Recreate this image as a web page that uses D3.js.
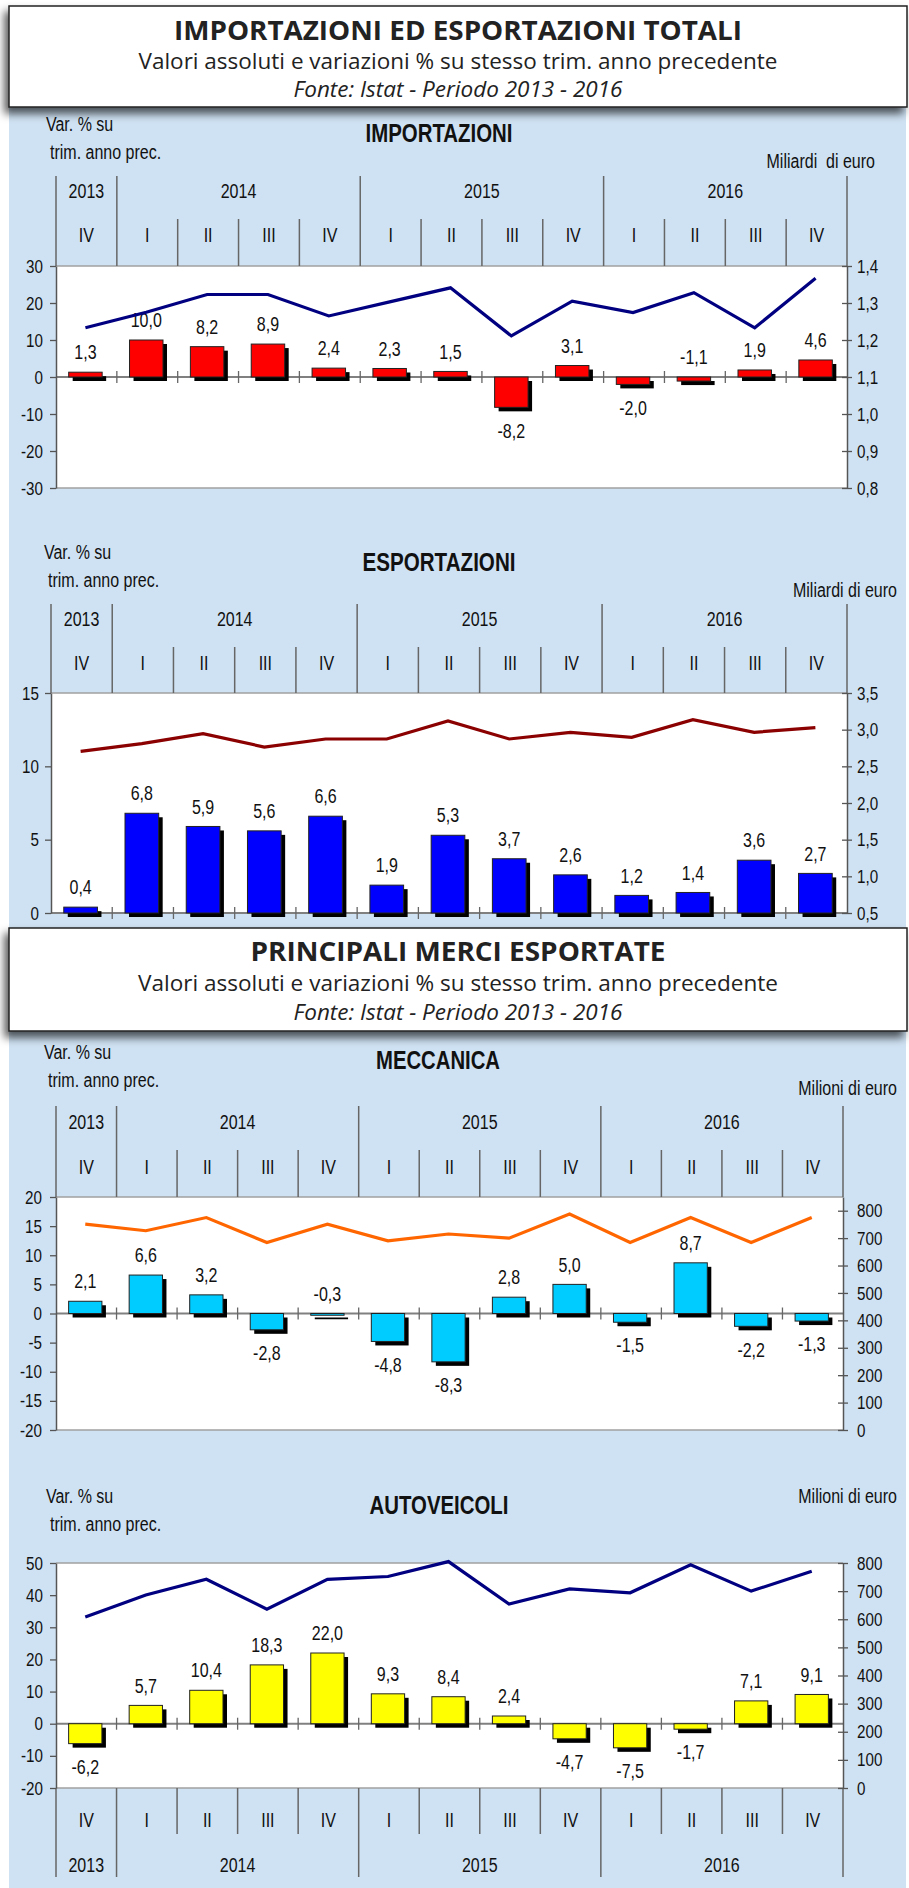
<!DOCTYPE html>
<html>
<head>
<meta charset="utf-8">
<script src="https://cdn.jsdelivr.net/npm/d3@7"></script>
<style>
  body { margin: 0; background: #fff; }
  svg text { font-family: "Liberation Sans", Arial, sans-serif; fill: #111; }
  .head text { font-family: "Open Sans", "Liberation Sans", sans-serif; fill: #222; }
</style>
</head>
<body>
<svg id="chart" width="909" height="1888"></svg>
<script>
// categories
var quarters = ["IV", "I", "II", "III", "IV", "I", "II", "III", "IV", "I", "II", "III", "IV"];
var years = ["2013", "2014", "2015", "2016"];
var yearSpan = [1, 4, 4, 4];

// importazioni: var. % e miliardi di euro
var impVar = [1.3, 10.0, 8.2, 8.9, 2.4, 2.3, 1.5, -8.2, 3.1, -2.0, -1.1, 1.9, 4.6];
var impVal = [1.233, 1.275, 1.323, 1.323, 1.265, 1.303, 1.341, 1.211, 1.305, 1.274, 1.328, 1.233, 1.367];
var impLeftTicks = [-30, -20, -10, 0, 10, 20, 30];
var impRightTicks = [0.8, 0.9, 1.0, 1.1, 1.2, 1.3, 1.4];

// esportazioni
var espVar = [0.4, 6.8, 5.9, 5.6, 6.6, 1.9, 5.3, 3.7, 2.6, 1.2, 1.4, 3.6, 2.7];
var espVal = [2.705, 2.81, 2.946, 2.763, 2.873, 2.873, 3.118, 2.873, 2.964, 2.895, 3.136, 2.964, 3.028];
var espLeftTicks = [0, 5, 10, 15];
var espRightTicks = [0.5, 1.0, 1.5, 2.0, 2.5, 3.0, 3.5];

// meccanica: milioni di euro
var mecVar = [2.1, 6.6, 3.2, -2.8, -0.3, -4.8, -8.3, 2.8, 5.0, -1.5, 8.7, -2.2, -1.3];
var mecVal = [751, 727, 775, 684, 751, 690, 715, 700, 788, 684, 775, 684, 775];
var mecLeftTicks = [-20, -15, -10, -5, 0, 5, 10, 15, 20];
var mecRightTicks = [0, 100, 200, 300, 400, 500, 600, 700, 800];

// autoveicoli
var autVar = [-6.2, 5.7, 10.4, 18.3, 22.0, 9.3, 8.4, 2.4, -4.7, -7.5, -1.7, 7.1, 9.1];
var autVal = [608, 686, 742, 636, 742, 752, 805, 654, 708, 694, 794, 700, 771];
var autLeftTicks = [-20, -10, 0, 10, 20, 30, 40, 50];
var autRightTicks = [0, 100, 200, 300, 400, 500, 600, 700, 800];

var it = d3.formatLocale({decimal: ",", thousands: ".", grouping: [3], currency: ["€", ""], minus: "-"});
var f1 = it.format(".1f"), f0 = it.format("d");

var svg = d3.select("#chart");

var defs = svg.append("defs");
defs.append("filter").attr("id", "ombra").attr("x", "-5%").attr("y", "-20%").attr("width", "110%").attr("height", "150%")
  .append("feDropShadow").attr("dx", -4).attr("dy", 6).attr("stdDeviation", 4)
  .attr("flood-color", "#000").attr("flood-opacity", 0.65);

// sfondo azzurro
svg.append("rect").attr("x", 9).attr("y", 60).attr("width", 897).attr("height", 1828).attr("fill", "#cfe2f3");

function testata(y, h, titolo, tLen, sLen, fLen, ys) {
  var g = svg.append("g").attr("class", "head");
  g.append("rect").attr("x", 9).attr("y", y).attr("width", 898).attr("height", h)
    .attr("fill", "#fff").attr("stroke", "#222").attr("stroke-width", 1.5).attr("filter", "url(#ombra)");
  g.append("text").attr("x", 458 - tLen / 2).attr("y", ys[0]).attr("dy", "0.36em")
    .attr("font-size", 26).attr("font-weight", "bold").attr("textLength", tLen).attr("lengthAdjust", "spacingAndGlyphs")
    .text(titolo);
  g.append("text").attr("x", 458 - sLen / 2).attr("y", ys[1]).attr("dy", "0.36em")
    .attr("font-size", 21).attr("textLength", sLen).attr("lengthAdjust", "spacingAndGlyphs")
    .text("Valori assoluti e variazioni % su stesso trim. anno precedente");
  g.append("text").attr("x", 458 - fLen / 2).attr("y", ys[2]).attr("dy", "0.36em")
    .attr("font-size", 21).attr("font-style", "italic").attr("textLength", fLen).attr("lengthAdjust", "spacingAndGlyphs")
    .text("Fonte: Istat - Periodo 2013 - 2016");
}

function pannello(p, L) {
  var g = svg.append("g");
  var n = quarters.length;
  var x = d3.scaleBand().domain(d3.range(n)).range([L.x0, L.x1]);
  var yL = d3.scaleLinear().domain(p.leftDomain).range([L.bottom, L.top]);
  var yR = d3.scaleLinear().domain(p.rightDomain).range([L.bottom, L.top]);
  var step = x.step();

  // testi
  g.append("text").attr("class", "nar").attr("x", L.varX).attr("y", L.varY).attr("dy", "0.36em").attr("font-size", 20).text("Var. % su");
  g.append("text").attr("class", "nar").attr("x", L.varX + 4).attr("y", L.varY + 28).attr("dy", "0.36em").attr("font-size", 20).text("trim. anno prec.");
  g.append("text").attr("x", L.titleX - p.titleLen / 2).attr("y", L.titleY).attr("dy", "0.36em")
    .attr("font-size", 25).attr("font-weight", "bold").attr("textLength", p.titleLen).attr("lengthAdjust", "spacingAndGlyphs")
    .text(p.title);
  g.append("text").attr("class", "nar").attr("x", L.unitX).attr("y", L.unitY).attr("dy", "0.36em").attr("text-anchor", "end")
    .attr("font-size", 20).style("white-space", "pre").text(p.unit);

  // area del grafico
  g.append("rect").attr("x", L.x0).attr("y", L.top).attr("width", L.x1 - L.x0).attr("height", L.bottom - L.top).attr("fill", "#fff");
  g.selectAll(".bordo").data([L.top, L.bottom]).enter().append("line")
    .attr("x1", L.x0).attr("x2", L.x1).attr("y1", d => d).attr("y2", d => d)
    .attr("stroke", "#a0a0a0").attr("stroke-width", 1.5);

  // intestazione anni / trimestri
  var yearStart = [0];
  yearSpan.forEach(function(s, i) { yearStart.push(yearStart[i] + s); });
  var bounds = d3.range(n + 1);
  g.selectAll(".sep").data(bounds).enter().append("line")
    .attr("x1", i => L.x0 + i * step).attr("x2", i => L.x0 + i * step)
    .attr("y1", i => L.below ? L.bottom : (yearStart.indexOf(i) >= 0 ? L.yearTop : L.qTop))
    .attr("y2", i => L.below ? (yearStart.indexOf(i) >= 0 ? L.yearBot : L.qBot) : L.top)
    .attr("stroke", "#666").attr("stroke-width", 1.5);
  g.selectAll(".q").data(quarters).enter().append("text").attr("class", "nar")
    .attr("x", (d, i) => x(i) + x.bandwidth() / 2).attr("y", L.qY).attr("dy", "0.36em")
    .attr("text-anchor", "middle").attr("font-size", 20).text(d => d);
  g.selectAll(".yr").data(years).enter().append("text").attr("class", "nar")
    .attr("x", (d, i) => L.x0 + (yearStart[i] + yearSpan[i] / 2) * step).attr("y", L.yearY).attr("dy", "0.36em")
    .attr("text-anchor", "middle").attr("font-size", 20).text(d => d);

  // linea dello zero con tacche
  var y0 = yL(0);
  g.append("line").attr("x1", L.x0).attr("x2", L.x1).attr("y1", y0).attr("y2", y0)
    .attr("stroke", "#808080").attr("stroke-width", 2);
  g.selectAll(".tz").data(d3.range(1, n)).enter().append("line")
    .attr("x1", i => L.x0 + i * step).attr("x2", i => L.x0 + i * step)
    .attr("y1", y0 - 6).attr("y2", y0 + 6).attr("stroke", "#666").attr("stroke-width", 1.3);

  // barre con ombra
  var bw = x.bandwidth() * 0.55;
  var bx = i => x(i) + (x.bandwidth() - bw) / 2 - 1;
  g.selectAll(".ombra").data(p.bars).enter().append("rect")
    .attr("x", (d, i) => bx(i) + 4).attr("y", d => Math.min(yL(d), y0) + 4)
    .attr("width", bw).attr("height", d => Math.max(Math.abs(yL(d) - y0), 1))
    .attr("fill", "#000");
  g.selectAll(".barra").data(p.bars).enter().append("rect")
    .attr("x", (d, i) => bx(i)).attr("y", d => Math.min(yL(d), y0))
    .attr("width", bw).attr("height", d => Math.max(Math.abs(yL(d) - y0), 1))
    .attr("fill", p.barColor).attr("stroke", "#222").attr("stroke-width", 1);

  // etichette
  g.selectAll(".et").data(p.bars).enter().append("text").attr("class", "nar")
    .attr("x", (d, i) => bx(i) + bw / 2)
    .attr("y", function(d) {
      var h = y0 - yL(d);
      if (d >= 0 || -h < 5) return Math.min(yL(d), y0) - 20;
      return yL(d) + 23;
    })
    .attr("dy", "0.36em").attr("text-anchor", "middle").attr("font-size", 20).text(d => f1(d));

  // linea valori assoluti
  g.append("path").datum(p.line)
    .attr("d", d3.line().x((d, i) => x(i) + x.bandwidth() / 2 - 1).y(d => yR(d)))
    .attr("fill", "none").attr("stroke", p.lineColor).attr("stroke-width", 3.2);

  // assi
  var aL = g.append("g").attr("transform", "translate(" + L.x0 + ",0)")
    .call(d3.axisLeft(yL).tickValues(p.leftTicks).tickSizeInner(6).tickSizeOuter(0).tickPadding(L.lPad).tickFormat(f0));
  var aR = g.append("g").attr("transform", "translate(" + L.x1 + ",0)")
    .call(d3.axisRight(yR).tickValues(p.rightTicks).tickSizeInner(5).tickSizeOuter(0).tickPadding(L.rPad).tickFormat(p.rightFmt));
  aR.selectAll(".tick line").attr("x1", -5).attr("x2", 5);
  [aL, aR].forEach(function(a) {
    a.select(".domain").attr("stroke", "#555").attr("stroke-width", 1.5);
    a.selectAll(".tick line").attr("stroke", "#555").attr("stroke-width", 1.3);
    a.selectAll("text").attr("class", "nar").attr("font-size", 19).attr("fill", "#111")
      .style("font-family", '"Liberation Sans", Arial, sans-serif');
  });
}

testata(6, 101, "IMPORTAZIONI ED ESPORTAZIONI TOTALI", 568, 639, 329, [30.5, 61, 89]);

pannello({title: "IMPORTAZIONI", titleLen: 147, unit: "Miliardi  di euro", bars: impVar, line: impVal,
  barColor: "#ff0000", lineColor: "#000080", leftDomain: [-30, 30], rightDomain: [0.8, 1.4],
  leftTicks: impLeftTicks, rightTicks: impRightTicks, rightFmt: f1},
  {x0: 56, x1: 847, top: 266, bottom: 488, yearTop: 176, qTop: 219, yearY: 191, qY: 235,
   varX: 46, varY: 124, titleX: 439, titleY: 133, unitX: 875, unitY: 161, lPad: 7, rPad: 5});

pannello({title: "ESPORTAZIONI", titleLen: 153, unit: "Miliardi di euro", bars: espVar, line: espVal,
  barColor: "#0000ff", lineColor: "#8b0000", leftDomain: [0, 15], rightDomain: [0.5, 3.5],
  leftTicks: espLeftTicks, rightTicks: espRightTicks, rightFmt: f1},
  {x0: 51, x1: 847, top: 693, bottom: 913, yearTop: 604, qTop: 647, yearY: 619, qY: 663,
   varX: 44, varY: 552, titleX: 439, titleY: 562, unitX: 897, unitY: 590, lPad: 6, rPad: 5});

testata(928, 103, "PRINCIPALI MERCI ESPORTATE", 415, 640, 329, [951.5, 983, 1012]);

pannello({title: "MECCANICA", titleLen: 124, unit: "Milioni di euro", bars: mecVar, line: mecVal,
  barColor: "#00ccff", lineColor: "#ff6600", leftDomain: [-20, 20], rightDomain: [0, 850],
  leftTicks: mecLeftTicks, rightTicks: mecRightTicks, rightFmt: f0},
  {x0: 56, x1: 843, top: 1197, bottom: 1430, yearTop: 1106, qTop: 1150, yearY: 1122, qY: 1167,
   varX: 44, varY: 1052, titleX: 438, titleY: 1060, unitX: 897, unitY: 1088, lPad: 8, rPad: 9});

pannello({title: "AUTOVEICOLI", titleLen: 139, unit: "Milioni di euro", bars: autVar, line: autVal,
  barColor: "#ffff00", lineColor: "#000080", leftDomain: [-20, 50], rightDomain: [0, 800],
  leftTicks: autLeftTicks, rightTicks: autRightTicks, rightFmt: f0},
  {x0: 56, x1: 843, top: 1563, bottom: 1788, below: true, qBot: 1834, yearBot: 1877, yearY: 1865, qY: 1820,
   varX: 46, varY: 1496, titleX: 439, titleY: 1505, unitX: 897, unitY: 1496, lPad: 7, rPad: 9});

// testo stretto come Arial Narrow: compressione orizzontale attorno al punto di ancoraggio
d3.selectAll("text.nar").each(function() {
  var ax = +d3.select(this).attr("x") || 0;
  d3.select(this).attr("transform", "translate(" + ax + ",0) scale(0.8,1) translate(" + (-ax) + ",0)");
});
</script>
</body>
</html>
